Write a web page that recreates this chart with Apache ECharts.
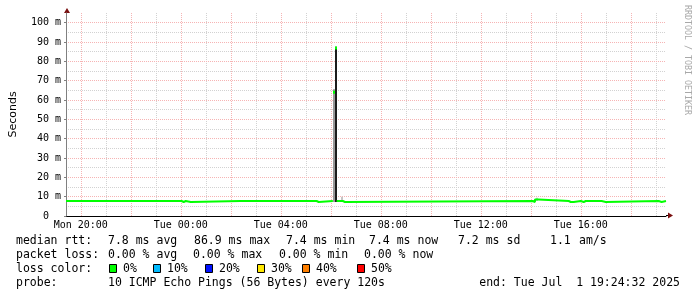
<!DOCTYPE html>
<html><head><meta charset="utf-8">
<script src="https://cdn.jsdelivr.net/npm/echarts@6/dist/echarts.min.js"></script>
<style>html,body{margin:0;padding:0;background:#fff}#c{width:697px;height:297px}</style>
</head><body><div id="c"></div>
<script>
// ---- data ----
const startTime = '2025-06-30 19:24:32';
const endTime = '2025-07-01 19:24:32';
const yMax = 105;
const yLabelTicks = [0, 10, 20, 30, 40, 50, 60, 70, 80, 90, 100];

// median rtt (ms), step values: each value holds until the next time (null = gap)
const medianTimes = [
  '2025-06-30 19:24:32',
  '2025-07-01 00:02', '2025-07-01 00:07', '2025-07-01 00:12', '2025-07-01 00:24',
  '2025-07-01 02:23', '2025-07-01 02:26',
  '2025-07-01 05:26', '2025-07-01 05:31',
  '2025-07-01 06:05',
  '2025-07-01 06:14', '2025-07-01 06:29', '2025-07-01 06:34',
  '2025-07-01 14:05', '2025-07-01 14:10', '2025-07-01 14:18',
  '2025-07-01 15:31', '2025-07-01 15:36', '2025-07-01 15:38', '2025-07-01 15:43',
  '2025-07-01 16:00', '2025-07-01 16:07', '2025-07-01 16:12', '2025-07-01 16:14',
  '2025-07-01 16:50', '2025-07-01 17:00',
  '2025-07-01 19:07', '2025-07-01 19:14',
  '2025-07-01 19:24:32'
];
const medianValues = [
  7.75,
  7.25, 7.75, 7.25, 7.75,
  7.25, 7.75,
  7.25, 7.75,
  null,
  7.75, 7.25, 7.75,
  7.25, 8.5, 7.75,
  7.25, 7.75, 7.25, 7.75,
  7.25, 7.75, 7.25, 7.75,
  7.25, 7.75,
  7.25, 7.75,
  7.75
];
// spike samples (median drawn as short segment)
const spikeTimes = ['2025-07-01 06:07', '2025-07-01 06:12'];
const spikeMedians = [64, 86.9];
// smoke (ping spread) per sample
const smokeTimes = ['2025-07-01 06:07', '2025-07-01 06:12', '2025-07-01 06:28', '2025-07-01 14:14'];
const smokeLow = [7.2, 7.2, 7.75, 7.75];
const smokeHigh = [65.5, 87.5, 10, 9.5];
const smokeShade = ['#9a9a9a', '#1c1c1c', '#c4c4c4', '#c4c4c4'];

// legend
const rttStats = { avg: '7.8 ms avg', max: '86.9 ms max', min: '7.4 ms min', now: '7.4 ms now', sd: '7.2 ms sd', am: '1.1', amUnit: 'am/s' };
const lossStats = ['0.00 % avg', '0.00 % max', '0.00 % min', '0.00 % now'];
const lossLabels = ['0%', '10%', '20%', '30%', '40%', '50%'];
const lossColors = ['#00ff00', '#00bbff', '#0011ff', '#ffe800', '#ff7f00', '#ff0000'];
const probeText = '10 ICMP Echo Pings (56 Bytes) every 120s';
const endText = 'end: Tue Jul  1 19:24:32 2025';
const watermark = 'RRDTOOL / TOBI OETIKER';

// ---- helpers ----
function t(s) {
  const m = s.match(/(\d+)-(\d+)-(\d+) (\d+):(\d+)(?::(\d+))?/);
  return new Date(+m[1], +m[2] - 1, +m[3], +m[4], +m[5], m[6] ? +m[6] : 0).getTime();
}
const DAYS = ['Sun', 'Mon', 'Tue', 'Wed', 'Thu', 'Fri', 'Sat'];
const pad = n => (n < 10 ? '0' : '') + n;
const MONO = 'DejaVu Sans Mono';
const MAJ = '#f6b4b4', MIN = '#d2d2d2';

const chart = echarts.init(document.getElementById('c'), null, { renderer: 'canvas' });

// build step-shaped line data: each value is held until the next time
const lineData = [];
for (let i = 0; i < medianTimes.length; i++) {
  const x = t(medianTimes[i]);
  if (i > 0 && medianValues[i - 1] !== null) lineData.push([x, medianValues[i - 1]]);
  lineData.push([x, medianValues[i]]);
}

// legend graphics
const g = [];
function txt(x, y, s, extra) {
  g.push(Object.assign({ type: 'text', x: x, y: y, style: { text: s, fontFamily: MONO, fontSize: 11.5, fill: '#000', verticalAlign: 'middle' } }, extra || {}));
}
const r1 = 241, r2 = 255.5, r3 = 269, r4 = 283;
txt(16, r1, 'median rtt:');
txt(108, r1, rttStats.avg); txt(194, r1, rttStats.max); txt(286, r1, rttStats.min);
txt(369, r1, rttStats.now); txt(458, r1, rttStats.sd); txt(550, r1, rttStats.am); txt(579, r1, rttStats.amUnit);
txt(16, r2, 'packet loss:');
[108, 193, 279, 364].forEach((x, i) => txt(x, r2, lossStats[i]));
txt(16, r3, 'loss color:');
[109, 153, 205, 257, 302, 357].forEach((x, i) => {
  g.push({ type: 'rect', shape: { x: x + 0.5, y: 264.5, width: 7, height: 8 }, style: { fill: lossColors[i], stroke: '#000', lineWidth: 1 } });
  txt(x + 14, r3, lossLabels[i]);
});
txt(16, r4, 'probe:');
txt(108, r4, probeText);
g.push({ type: 'text', x: 680, y: r4, style: { text: endText, fontFamily: MONO, fontSize: 11.5, fill: '#000', verticalAlign: 'middle', align: 'right' } });
// watermark
g.push({ type: 'text', x: 687, y: 5, rotation: -Math.PI / 2, style: { text: watermark, fontFamily: MONO, fontSize: 8.3, fill: '#a8a8a8', verticalAlign: 'middle', align: 'left' } });
// arrows
g.push({ type: 'polygon', shape: { points: [[64, 13], [67, 8], [70, 13]] }, style: { fill: '#7a1010' } });
g.push({ type: 'line', shape: { x1: 666, y1: 215.5, x2: 669, y2: 215.5 }, style: { stroke: '#000', lineWidth: 1 } });
g.push({ type: 'polygon', shape: { points: [[668, 212.5], [673, 215.5], [668, 218.5]] }, style: { fill: '#7a1010' } });

const option = {
  animation: false,
  backgroundColor: '#fff',
  textStyle: { fontFamily: MONO },
  grid: { left: 66, right: 31, top: 13, bottom: 81, containLabel: false },
  xAxis: [
    {
      type: 'time', min: t(startTime), max: t(endTime),
      minInterval: 3600000, maxInterval: 3600000,
      axisLine: { show: true, lineStyle: { color: '#000', width: 1 } },
      axisTick: { show: false },
      axisLabel: {
        show: true, margin: 4, fontFamily: MONO, fontSize: 10, color: '#000',
        showMinLabel: false, showMaxLabel: false, hideOverlap: false,
        formatter: function (v) {
          const d = new Date(v);
          if (d.getMinutes() || d.getSeconds() || d.getHours() % 4) return '';
          return DAYS[d.getDay()] + ' ' + pad(d.getHours()) + ':00';
        }
      },
      splitLine: { show: true, showMinLine: false, showMaxLine: false, lineStyle: { color: MIN, width: 1, type: [1, 1] } }
    },
    {
      type: 'time', min: t(startTime), max: t(endTime), z: 1,
      minInterval: 9000000, maxInterval: 9000000,
      axisLine: { show: false }, axisTick: { show: false }, axisLabel: { show: false },
      splitLine: { show: true, showMinLine: false, showMaxLine: false, lineStyle: { color: MAJ, width: 1, type: [1, 1] } }
    }
  ],
  yAxis: [
    {
      type: 'value', min: 0, max: yMax, interval: 10, z: 1,
      name: 'Seconds', nameLocation: 'middle', nameGap: 47, nameRotate: 90,
      nameTextStyle: { fontFamily: 'DejaVu Sans', fontSize: 11, color: '#000' },
      axisLine: { show: true, lineStyle: { color: '#808080', width: 1 } },
      axisTick: { show: true, length: 2, lineStyle: { color: '#808080' } },
      axisLabel: {
        margin: 5, fontFamily: MONO, fontSize: 10, color: '#000', showMaxLabel: false,
        formatter: v => (yLabelTicks.indexOf(v) < 0 ? '' : (v === 0 ? '0\u00a0\u00a0' : v + ' m'))
      },
      splitLine: { show: true, showMinLine: false, showMaxLine: false, lineStyle: { color: MAJ, width: 1, type: [1, 1] } }
    },
    {
      type: 'value', min: 0, max: yMax, interval: 5, position: 'right',
      axisLine: { show: false }, axisTick: { show: false }, axisLabel: { show: false },
      splitLine: { show: true, showMinLine: false, showMaxLine: false, lineStyle: { color: MIN, width: 1, type: [1, 1] } }
    }
  ],
  series: [
    {
      type: 'custom', xAxisIndex: 0, yAxisIndex: 0, z: 2,
      data: smokeTimes.map((s, i) => [t(s), smokeLow[i], smokeHigh[i]]),
      encode: { x: 0, y: [1, 2] },
      renderItem: function (params, api) {
        const a = api.coord([api.value(0), api.value(1)]);
        const b = api.coord([api.value(0), api.value(2)]);
        return { type: 'rect', shape: { x: Math.round(a[0]) - 1, y: b[1], width: 2, height: a[1] - b[1] }, style: { fill: smokeShade[params.dataIndex] } };
      }
    },
    {
      type: 'line', xAxisIndex: 0, yAxisIndex: 0, z: 3,
      data: lineData, showSymbol: false, connectNulls: false,
      lineStyle: { color: '#00ff00', width: 2 }, itemStyle: { color: '#00ff00' }
    },
    {
      type: 'custom', xAxisIndex: 0, yAxisIndex: 0, z: 4,
      data: spikeTimes.map((s, i) => [t(s), spikeMedians[i]]),
      encode: { x: 0, y: 1 },
      renderItem: function (params, api) {
        const a = api.coord([api.value(0), api.value(1)]);
        return { type: 'rect', shape: { x: Math.round(a[0]) - 1, y: a[1] - 1.5, width: 2, height: 3 }, style: { fill: '#00ff00' } };
      }
    }
  ],
  graphic: g
};
chart.setOption(option);
</script>
</body></html>
